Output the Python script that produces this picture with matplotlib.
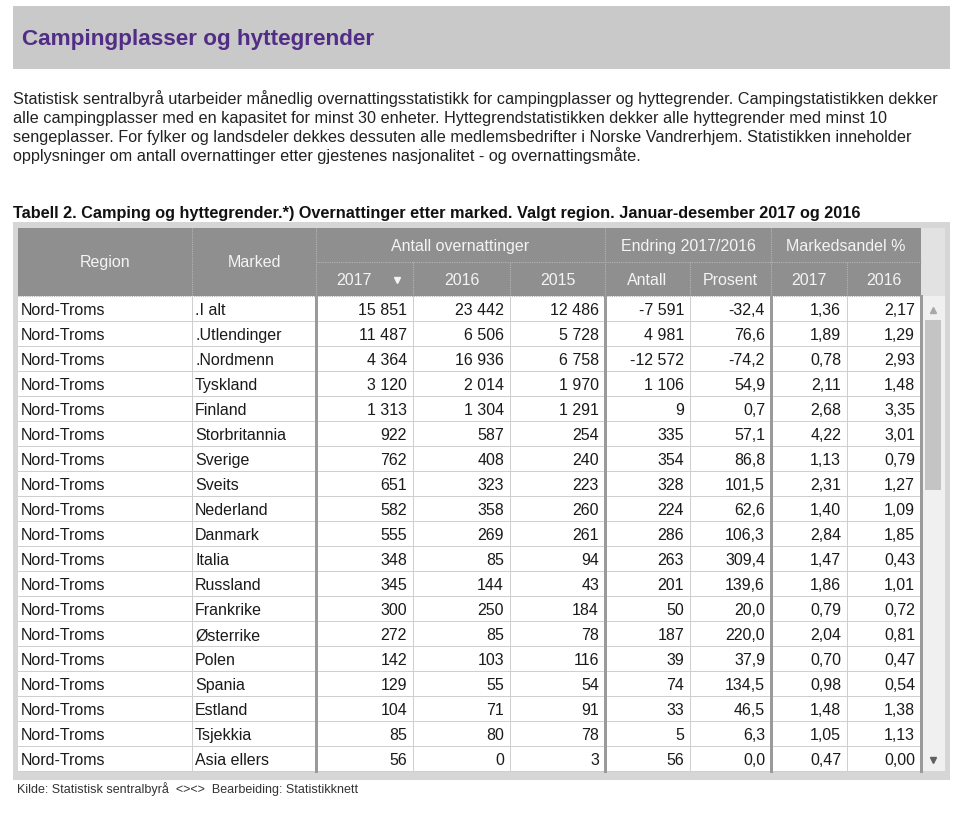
import matplotlib.pyplot as plt
from matplotlib.patches import Rectangle

regions = ['Nord-Troms'] * 19
markets = ['.I alt', '.Utlendinger', '.Nordmenn', 'Tyskland', 'Finland', 'Storbritannia',
           'Sverige', 'Sveits', 'Nederland', 'Danmark', 'Italia', 'Russland', 'Frankrike',
           'Østerrike', 'Polen', 'Spania', 'Estland', 'Tsjekkia', 'Asia ellers']
n2017 = [15851, 11487, 4364, 3120, 1313, 922, 762, 651, 582, 555, 348, 345, 300, 272, 142, 129, 104, 85, 56]
n2016 = [23442, 6506, 16936, 2014, 1304, 587, 408, 323, 358, 269, 85, 144, 250, 85, 103, 55, 71, 80, 0]
n2015 = [12486, 5728, 6758, 1970, 1291, 254, 240, 223, 260, 261, 94, 43, 184, 78, 116, 54, 91, 78, 3]
endr_antall = [-7591, 4981, -12572, 1106, 9, 335, 354, 328, 224, 286, 263, 201, 50, 187, 39, 74, 33, 5, 56]
endr_pst = [-32.4, 76.6, -74.2, 54.9, 0.7, 57.1, 86.8, 101.5, 62.6, 106.3, 309.4, 139.6, 20.0,
            220.0, 37.9, 134.5, 46.5, 6.3, 0.0]
andel2017 = [1.36, 1.89, 0.78, 2.11, 2.68, 4.22, 1.13, 2.31, 1.40, 2.84, 1.47, 1.86, 0.79,
             2.04, 0.70, 0.98, 1.48, 1.05, 0.47]
andel2016 = [2.17, 1.29, 2.93, 1.48, 3.35, 3.01, 0.79, 1.27, 1.09, 1.85, 0.43, 1.01, 0.72,
             0.81, 0.47, 0.54, 1.38, 1.13, 0.00]

groups = ['Antall overnattinger', 'Endring 2017/2016', 'Markedsandel %']
subheads = ['2017', '2016', '2015', 'Antall', 'Prosent', '2017', '2016']

title = 'Campingplasser og hyttegrender'
intro = ['Statistisk sentralbyrå utarbeider månedlig overnattingsstatistikk for campingplasser og hyttegrender. Campingstatistikken dekker',
         'alle campingplasser med en kapasitet for minst 30 enheter. Hyttegrendstatistikken dekker alle hyttegrender med minst 10',
         'sengeplasser. For fylker og landsdeler dekkes dessuten alle medlemsbedrifter i Norske Vandrerhjem. Statistikken inneholder',
         'opplysninger om antall overnattinger etter gjestenes nasjonalitet - og overnattingsmåte.']
caption = 'Tabell 2. Camping og hyttegrender.*) Overnattinger etter marked. Valgt region. Januar-desember 2017 og 2016'
footer = 'Kilde: Statistisk sentralbyrå  <><>  Bearbeiding: Statistikknett'


def fint(v):
    return f'{v:,}'.replace(',', ' ')


def fdec(v, n):
    return f'{v:.{n}f}'.replace('.', ',')


plt.rcParams['font.family'] = ['Liberation Sans', 'DejaVu Sans']
PX = 0.72  # points per pixel at dpi 100

fig = plt.figure(figsize=(9.72, 8.13), dpi=100)
ax = fig.add_axes([0, 0, 1, 1])
ax.set_xlim(0, 972)
ax.set_ylim(813, 0)
ax.axis('off')

# title bar
ax.add_patch(Rectangle((13, 6), 937, 63, color='#c9c9c9', lw=0))
ax.text(22, 45, title, fontsize=22.5 * PX, fontweight='bold', color='#512d86', va='baseline')

for i, line in enumerate(intro):
    ax.text(13, 104 + 19 * i, line, fontsize=16.2 * PX, color='#222222', va='baseline')

ax.text(13, 218, caption, fontsize=16.2 * PX, fontweight='bold', color='#111111', va='baseline')

# table frame
ax.add_patch(Rectangle((13, 222), 937, 558, color='#d6d6d6', lw=0))
ax.add_patch(Rectangle((18, 228), 927, 543, color='white', lw=0))

cols = [18, 192, 316, 413, 510, 605, 690, 771, 847, 921]
top, h1, h2, rh = 228, 262, 296, 25
nrows = len(markets)
bottom = h2 + rh * nrows

# header
ax.add_patch(Rectangle((cols[0], top), cols[-1] - cols[0], h2 - top, color='#8f8f8f', lw=0))
ax.add_patch(Rectangle((cols[-1], top), 24, h2 - top, color='#e2e2e2', lw=0))
hc = '#f4f4f4'
hs = 16 * PX
ax.text((cols[0] + cols[1]) / 2, 267, 'Region', ha='center', va='baseline', fontsize=hs, color=hc)
ax.text((cols[1] + cols[2]) / 2, 267, 'Marked', ha='center', va='baseline', fontsize=hs, color=hc)
spans = [(2, 5), (5, 7), (7, 9)]
for g, (a, b) in zip(groups, spans):
    ax.text((cols[a] + cols[b]) / 2, 251, g, ha='center', va='baseline', fontsize=hs, color=hc)
for j, s in enumerate(subheads):
    cx = (cols[j + 2] + cols[j + 3]) / 2
    if j == 0:
        cx = 354
    ax.text(cx, 285, s, ha='center', va='baseline', fontsize=hs, color=hc)
ax.plot([397], [280], marker='v', ms=5, color=hc, mec=hc)

dot = dict(color='#b5b5b5', lw=0.8, ls=(0, (1, 1)))
ax.plot([cols[2], cols[-1]], [h1, h1], **dot)
ax.plot([cols[0], cols[-1]], [h2, h2], **dot)
for x in cols[1:3] + [cols[5], cols[7]]:
    ax.plot([x, x], [top, h2], **dot)
for x in [cols[3], cols[4], cols[6], cols[8]]:
    ax.plot([x, x], [h1, h2], **dot)

# body
tc = '#1a1a1a'
ts = 16 * PX
columns = [[fint(v) for v in n2017], [fint(v) for v in n2016], [fint(v) for v in n2015],
           [fint(v) for v in endr_antall], [fdec(v, 1) for v in endr_pst],
           [fdec(v, 2) for v in andel2017], [fdec(v, 2) for v in andel2016]]
for i in range(nrows):
    y0 = h2 + rh * i
    yb = y0 + 19
    ax.text(cols[0] + 3, yb, regions[i], va='baseline', fontsize=ts, color=tc)
    ax.text(cols[1] + 3, yb, markets[i], va='baseline', fontsize=ts, color=tc)
    for j, vals in enumerate(columns):
        ax.text(cols[j + 3] - 6, yb, vals[i], ha='right', va='baseline', fontsize=ts, color=tc)
    ax.plot([cols[0], cols[-1]], [y0 + rh, y0 + rh], color='#cfcfcf', lw=PX)

for x in [cols[1], cols[3], cols[4], cols[6], cols[8]]:
    ax.plot([x, x], [h2, bottom], color='#cfcfcf', lw=PX)
for x in [cols[2], cols[5], cols[7], cols[9]]:
    ax.plot([x, x], [h2, bottom], color='#9a9a9a', lw=3 * PX)

# scrollbar
ax.add_patch(Rectangle((cols[-1] + 1, h2), 23, bottom - h2, color='#f0f0f0', lw=0))
ax.add_patch(Rectangle((925, 320), 16, 170, color='#c4c4c4', lw=0))
ax.plot([933], [310], marker='^', ms=5, color='#a8a8a8')
ax.plot([933], [760], marker='v', ms=5, color='#606060')

ax.text(17, 793, footer, fontsize=12.5 * PX, color='#333333', va='baseline')

fig.savefig('out.png', dpi=100)
